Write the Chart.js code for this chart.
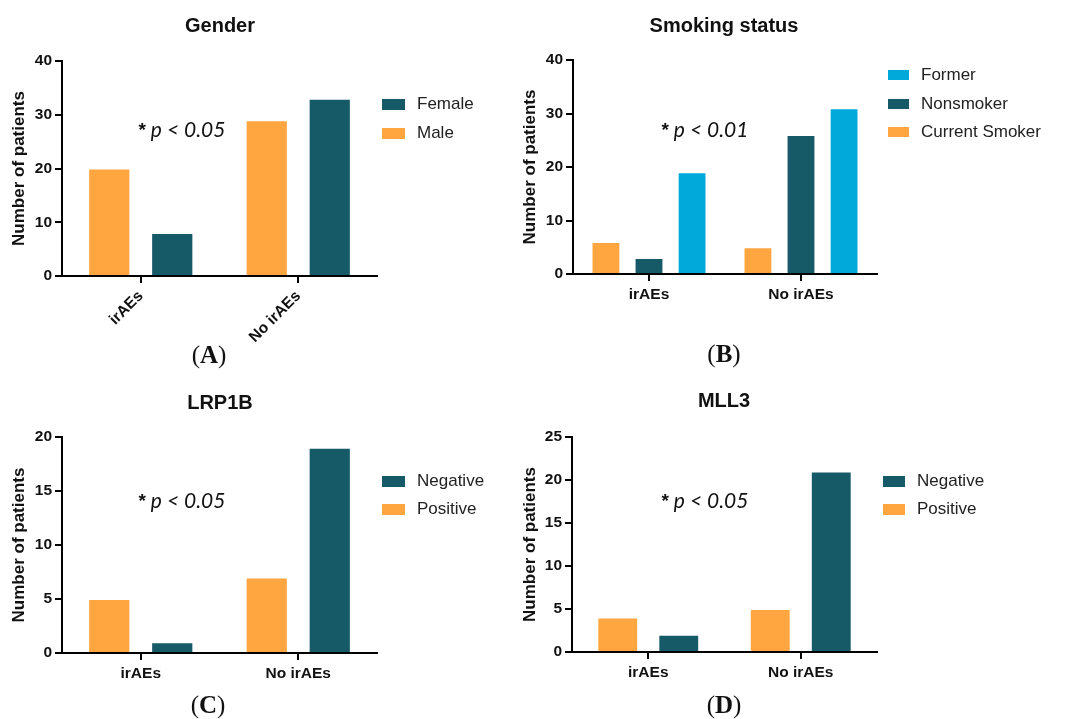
<!DOCTYPE html>
<html>
<head>
<meta charset="utf-8">
<script src="https://cdn.jsdelivr.net/npm/chart.js@4.4.1/dist/chart.umd.min.js"></script>
<style>
  body { margin: 0; background: #fff; width: 1076px; height: 719px; position: relative; overflow: hidden;
         font-family: "Liberation Sans", Arial, sans-serif; }
  .panel { position: absolute; }
  .txt { position: absolute; transform: translate(-50%, -50%); white-space: nowrap; }
  .title { font-weight: bold; font-size: 20px; color: #111; }
  .pval { font-family: Lato, "Open Sans", sans-serif; font-style: italic; font-size: 21px; color: #111; }
  .pval i { font-family: "Liberation Sans", Arial, sans-serif; font-style: normal; font-weight: bold; font-size: 19px; position: relative; top: -1px; }
  .cap { font-family: "Liberation Serif", "Times New Roman", serif; font-size: 25px; color: #111; }
  .cap b { font-weight: bold; }
  .legend { position: absolute; font-size: 17px; color: #222; }
  .legend div { position: absolute; white-space: nowrap; }
  .legend span { position: absolute; }
</style>
</head>
<body>
<div class="panel" style="left:0;top:0;width:520px;height:370px"><canvas id="chartA"></canvas></div>
<div class="panel" style="left:520px;top:0;width:556px;height:370px"><canvas id="chartB"></canvas></div>
<div class="panel" style="left:0;top:370px;width:520px;height:349px"><canvas id="chartC"></canvas></div>
<div class="panel" style="left:520px;top:370px;width:556px;height:349px"><canvas id="chartD"></canvas></div>

<div class="txt title" style="left:220px;top:25px">Gender</div>
<div class="txt title" style="left:724px;top:25px">Smoking status</div>
<div class="txt title" style="left:220px;top:402px">LRP1B</div>
<div class="txt title" style="left:724px;top:400px">MLL3</div>

<div class="txt pval" style="left:182px;top:129px"><i>*</i> p &lt; 0.05</div>
<div class="txt pval" style="left:705px;top:129px"><i>*</i> p &lt; 0.01</div>
<div class="txt pval" style="left:182px;top:500px"><i>*</i> p &lt; 0.05</div>
<div class="txt pval" style="left:705px;top:500px"><i>*</i> p &lt; 0.05</div>

<div class="txt cap" style="left:209px;top:355px">(<b>A</b>)</div>
<div class="txt cap" style="left:724px;top:354px">(<b>B</b>)</div>
<div class="txt cap" style="left:208px;top:705px">(<b>C</b>)</div>
<div class="txt cap" style="left:724px;top:705px">(<b>D</b>)</div>

<div id="legA" class="legend" style="left:382px;top:104px"></div>
<div id="legB" class="legend" style="left:888px;top:75px"></div>
<div id="legC" class="legend" style="left:382px;top:481px"></div>
<div id="legD" class="legend" style="left:883px;top:481px"></div>

<script>
const groups = ['irAEs', 'No irAEs'];

const genderMale = [20, 29];
const genderFemale = [8, 33];

const smokeCurrent = [6, 5];
const smokeNon = [3, 26];
const smokeFormer = [19, 31];

const lrpPositive = [5, 7];
const lrpNegative = [1, 19];

const mllPositive = [4, 5];
const mllNegative = [2, 21];

const ORANGE = '#FFA640';
const TEAL = '#175A67';
const BLUE = '#00A9DA';
const TICK_FONT = { family: '"Liberation Sans", Arial, sans-serif', size: 15.5, weight: 'bold' };

function makeChart(id, datasets, cfg) {
  return new Chart(document.getElementById(id), {
    type: 'bar',
    data: { labels: groups, datasets: datasets },
    options: {
      responsive: true,
      maintainAspectRatio: false,
      animation: false,
      events: [],
      categoryPercentage: cfg.cat,
      barPercentage: 0.67,
      layout: { padding: cfg.pad },
      plugins: { legend: { display: false }, tooltip: { enabled: false } },
      scales: {
        x: {
          grid: { offset: false, drawOnChartArea: false, color: '#000', lineWidth: 2, tickLength: 7 },
          border: { color: '#000', width: 2 },
          ticks: { color: '#111', font: TICK_FONT, padding: 4, minRotation: cfg.rot, maxRotation: cfg.rot },
          afterFit: (s) => { s.height = cfg.xh; },
        },
        y: {
          min: 0,
          max: cfg.max,
          grid: { drawOnChartArea: false, color: '#000', lineWidth: 2, tickLength: 7 },
          border: { color: '#000', width: 2 },
          ticks: { stepSize: cfg.step, color: '#111', font: TICK_FONT, padding: 3 },
          title: {
            display: true,
            text: 'Number of patients',
            color: '#111',
            padding: 0,
            font: { family: '"Liberation Sans", Arial, sans-serif', size: 17, weight: 'bold' },
          },
          afterFit: (s) => { s.width = cfg.yw; },
        },
      },
    },
  });
}

function bars(label, data, color) {
  return { label: label, data: data, backgroundColor: color, borderColor: 'rgba(255,255,255,0.35)', borderWidth: 1 };
}

// legend lists top to bottom, as drawn in the figure
function legend(id, items, box, gap, textLeft) {
  const el = document.getElementById(id);
  items.forEach(([label, color], i) => {
    const y = i * gap;
    const sw = document.createElement('span');
    sw.style.cssText = `left:0;top:${y - box[1] / 2}px;width:${box[0]}px;height:${box[1]}px;background:${color}`;
    const t = document.createElement('div');
    t.textContent = label;
    t.style.cssText = `left:${textLeft}px;top:${y - 10}px;line-height:20px`;
    el.appendChild(sw);
    el.appendChild(t);
  });
}

makeChart('chartA', [bars('Male', genderMale, ORANGE), bars('Female', genderFemale, TEAL)],
  { cat: 0.8, max: 40, step: 10, rot: 45, xh: 80, yw: 53, pad: { left: 9, right: 143, top: 61, bottom: 14 } });

makeChart('chartB', [bars('Current Smoker', smokeCurrent, ORANGE), bars('Nonsmoker', smokeNon, TEAL), bars('Former', smokeFormer, BLUE)],
  { cat: 0.85, max: 40, step: 10, rot: 0, xh: 40, yw: 53, pad: { left: 0, right: 199, top: 60, bottom: 56 } });

makeChart('chartC', [bars('Positive', lrpPositive, ORANGE), bars('Negative', lrpNegative, TEAL)],
  { cat: 0.8, max: 20, step: 5, rot: 0, xh: 40, yw: 53, pad: { left: 9, right: 143, top: 67, bottom: 26 } });

makeChart('chartD', [bars('Positive', mllPositive, ORANGE), bars('Negative', mllNegative, TEAL)],
  { cat: 0.8, max: 25, step: 5, rot: 0, xh: 40, yw: 52, pad: { left: 0, right: 199, top: 67, bottom: 27 } });

legend('legA', [['Female', TEAL], ['Male', ORANGE]], [23, 11], 29, 35);
legend('legB', [['Former', BLUE], ['Nonsmoker', TEAL], ['Current Smoker', ORANGE]], [21, 10], 28.5, 33);
legend('legC', [['Negative', TEAL], ['Positive', ORANGE]], [23, 11], 28, 35);
legend('legD', [['Negative', TEAL], ['Positive', ORANGE]], [22, 11], 28, 34);
</script>
</body>
</html>
